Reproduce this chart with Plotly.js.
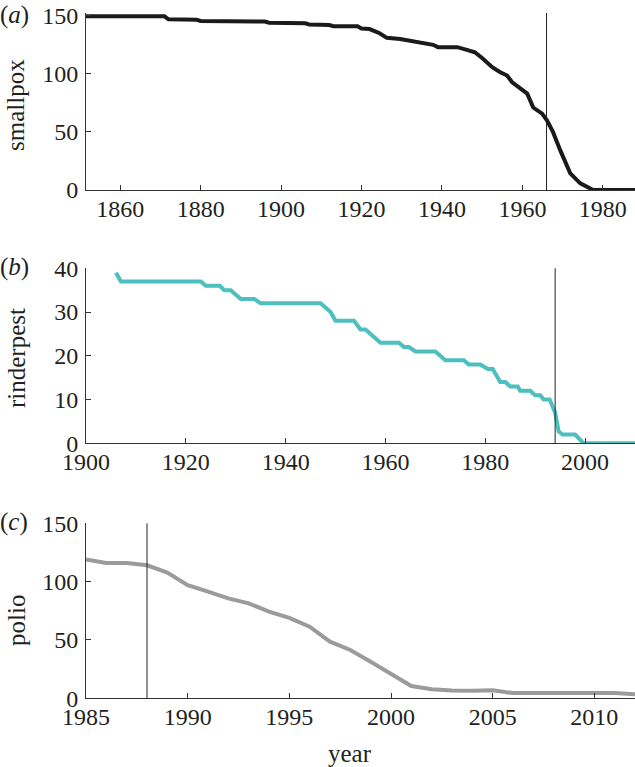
<!DOCTYPE html>
<html>
<head>
<meta charset="utf-8">
<script src="https://cdn.plot.ly/plotly-3.0.1.min.js"></script>
<style>
  html, body { margin: 0; padding: 0; background: #fff; }
  #chart { width: 635px; height: 767px; }
</style>
</head>
<body>
<div id="chart"></div>
<script>
/* eradication curves — three stacked panels */

// (a) smallpox
const smallpoxYear  = [1851, 1871, 1872, 1876, 1877, 1879, 1880, 1896, 1897, 1906,
                       1907, 1912, 1913, 1919, 1920, 1922, 1924.5, 1926.3, 1929.6, 1932,
                       1934, 1937.8, 1939, 1943.8, 1946.2, 1948.2, 1950.2, 1952.5, 1954.5, 1956.2,
                       1957.4, 1959.4, 1961.2, 1962.7, 1964.9, 1966.1, 1967.6, 1969.4, 1971.9, 1974.4,
                       1977.6, 1988];
const smallpoxCount = [149.5, 149.5, 147, 147, 146.5, 146.5, 145.5, 145, 144, 143.5,
                       142.5, 142, 141, 141, 139, 138.6, 135, 131, 130, 128.6,
                       126.6, 125, 123, 123, 120.6, 118.6, 113, 105.7, 101.4, 98.6,
                       93, 88, 83, 71, 65.7, 60, 50, 34.3, 14.3, 5.7,
                       0, 0];

// (b) rinderpest
const rinderpestYear  = [1906, 1907, 1923, 1924, 1926.8, 1927.7, 1929, 1931, 1933.7, 1935,
                         1947, 1949, 1950, 1953.7, 1955, 1956, 1959, 1962.7, 1963.7, 1964.7,
                         1966, 1970, 1972, 1975.7, 1976.7, 1979, 1980.5, 1981.5, 1983, 1984,
                         1985, 1986.5, 1987, 1989, 1990, 1991, 1991.7, 1992.9, 1994, 1994.7,
                         1995.5, 1998, 1999.7, 2010];
const rinderpestCount = [39, 37, 37, 36, 36, 35, 35, 33, 33, 32,
                         32, 30, 28, 28, 26, 26, 23, 23, 22, 22,
                         21, 21, 19, 19, 18, 18, 17, 17, 14, 14,
                         13, 13, 12, 12, 11, 11, 10, 10, 7, 2.7,
                         2, 2, 0, 0];

// (c) polio
const polioYear  = [1985, 1986, 1987, 1988, 1989, 1990, 1991, 1992, 1993, 1994,
                    1995, 1996, 1997, 1998, 1999, 2000, 2001, 2002, 2003, 2004,
                    2005, 2006, 2007, 2008, 2009, 2010, 2011, 2012];
const polioCount = [119, 116, 116, 114, 107.7, 97, 91.4, 85.7, 81.4, 74.3,
                    69, 61.4, 48.5, 41.4, 31.4, 21.4, 10.5, 7.7, 6.6, 6.5,
                    6.8, 4.5, 4.5, 4.5, 4.5, 4.5, 4.5, 3.4];

// vertical marker years: a, b, c
const markerYear = [1966, 1994, 1988];

const W = 635, H = 767;
const px = x => x / W;
const py = y => 1 - y / H;

const SERIF = 'Liberation Serif, serif';
const INK   = '#231f20';

const AXIS = {
  showline: true, linecolor: '#333', linewidth: 1,
  ticks: 'inside', ticklen: 5, tickcolor: '#333', tickwidth: 1,
  showgrid: false, zeroline: false, automargin: false, fixedrange: true,
  ticklabeloverflow: 'allow',
  tickfont: { family: SERIF, size: 24, color: INK },
};
const XAX = { ...AXIS, ticklabelstandoff: -3 };
const YAX = { ...AXIS, ticklabelstandoff: 2 };

const xDom = [px(86), 1];

const traces = [
  { x: smallpoxYear, y: smallpoxCount, xaxis: 'x', yaxis: 'y',
    mode: 'lines', line: { color: '#1a1a1a', width: 4 }, hoverinfo: 'skip' },
  { x: rinderpestYear, y: rinderpestCount, xaxis: 'x2', yaxis: 'y2',
    mode: 'lines', line: { color: '#4cbfbe', width: 4 }, hoverinfo: 'skip' },
  { x: polioYear, y: polioCount, xaxis: 'x3', yaxis: 'y3',
    mode: 'lines', line: { color: '#9b9b9b', width: 4 }, hoverinfo: 'skip' },
];

const vline = (yr, ax) => ({
  type: 'line', xref: 'x' + ax, yref: 'y' + ax + ' domain',
  x0: yr, x1: yr, y0: 0, y1: 1,
  line: { color: '#222', width: 1 },
});

const ann = (text, x, y, extra = {}) => ({
  text, x: px(x), y: py(y), xref: 'paper', yref: 'paper',
  showarrow: false, xanchor: 'center', yanchor: 'middle',
  font: { family: SERIF, size: 25, color: INK }, ...extra,
});

const layout = {
  width: W, height: H,
  margin: { l: 0, r: 0, t: 0, b: 0 },
  paper_bgcolor: '#fff', plot_bgcolor: '#fff',
  showlegend: false,
  xaxis:  { ...XAX, domain: xDom, anchor: 'y',  range: [1851.5, 1988], tick0: 1860, dtick: 20 },
  yaxis:  { ...YAX, domain: [py(190), py(13)], anchor: 'x', range: [0, 152.4], tickvals: [0, 50, 100, 150] },
  xaxis2: { ...XAX, domain: xDom, anchor: 'y2', range: [1900, 2010], tick0: 1900, dtick: 20 },
  yaxis2: { ...YAX, domain: [py(443.3), py(268.3)], anchor: 'x2', range: [0, 40], dtick: 10 },
  xaxis3: { ...XAX, domain: xDom, anchor: 'y3', range: [1985, 2012], tick0: 1985, dtick: 5 },
  yaxis3: { ...YAX, domain: [py(698.3), py(523.3)], anchor: 'x3', range: [0, 150], dtick: 50 },
  shapes: [vline(markerYear[0], ''), vline(markerYear[1], '2'), vline(markerYear[2], '3')],
  annotations: [
    ann('(<i>a</i>)', 14, 15),
    ann('(<i>b</i>)', 14, 267),
    ann('(<i>c</i>)', 14, 522),
    ann('smallpox',   16, 105, { textangle: -90 }),
    ann('rinderpest', 16, 358, { textangle: -90 }),
    ann('polio',      16, 621, { textangle: -90 }),
    ann('year',       350, 753),
  ],
};

Plotly.newPlot('chart', traces, layout, { displayModeBar: false, staticPlot: true });
</script>
</body>
</html>
